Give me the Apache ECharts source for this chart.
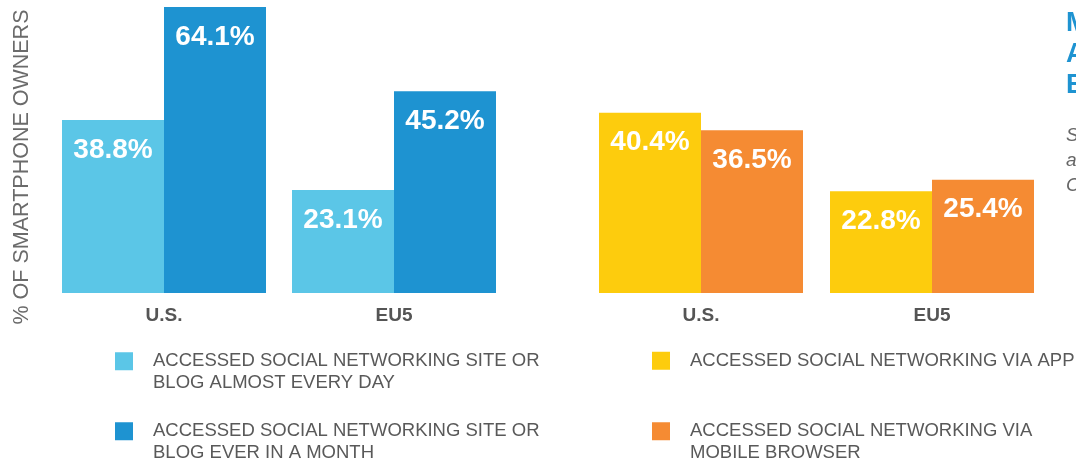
<!DOCTYPE html>
<html>
<head>
<meta charset="utf-8">
<script src="https://cdn.jsdelivr.net/npm/echarts@6/dist/echarts.min.js"></script>
<style>
  html, body { margin: 0; padding: 0; background: #fff; }
  #main { width: 1076px; height: 461px; }
</style>
</head>
<body>
<div id="main"></div>
<script>
// data
const categories = ['U.S.', 'EU5'];
const dailySocial = [38.8, 23.1];
const monthlySocial = [64.1, 45.2];
const viaApp = [40.4, 22.8];
const viaBrowser = [36.5, 25.4];

const names = [
  'ACCESSED SOCIAL NETWORKING SITE OR\nBLOG ALMOST EVERY DAY',
  'ACCESSED SOCIAL NETWORKING SITE OR\nBLOG EVER IN A MONTH',
  'ACCESSED SOCIAL NETWORKING VIA APP',
  'ACCESSED SOCIAL NETWORKING VIA\nMOBILE BROWSER'
];
const colors = ['#5bc6e7', '#1e93d1', '#fdcc0d', '#f58b33'];

const font = '"Liberation Sans", Arial, Helvetica, sans-serif';
const yMax = 64.1;

var myChart = echarts.init(document.getElementById('main'));

var xAxisOf = function (idx) {
  return {
    type: 'category', gridIndex: idx, data: categories,
    axisLine: {show: false}, axisTick: {show: false},
    axisLabel: {margin: 13, color: '#555', fontSize: 19, fontWeight: 'bold', fontFamily: font}
  }
}
var yAxisOf = function (idx, extra) {
  return Object.assign({
    type: 'value', gridIndex: idx, min: 0, max: yMax,
    axisLine: {show: false}, axisTick: {show: false},
    axisLabel: {show: false}, splitLine: {show: false}
  }, extra || {})
}
var barOf = function (i, data, axis) {
  return {
    name: names[i], type: 'bar', data: data,
    xAxisIndex: axis, yAxisIndex: axis,
    barWidth: 102, barGap: '0%',
    itemStyle: {color: colors[i]},
    label: {
      show: true, position: 'insideTop', distance: 16,
      formatter: '{c}%', color: '#fff', fontSize: 28, fontWeight: 'bold', fontFamily: font
    }
  }
}
// icon sits on the first text line, so a blank line goes above two-line names
var legendOf = function (i, left, top, twoLines) {
  return {
    data: [names[i]], left: left, top: top, orient: 'vertical',
    padding: 0, selectedMode: false, icon: 'rect',
    itemWidth: 18, itemHeight: 18,
    formatter: twoLines ? '\n{name}' : '{name}',
    textStyle: {
      fontSize: 18.5, lineHeight: 21.5, color: '#595959', fontFamily: font,
      padding: [0, 0, 0, 15]
    }
  }
}

option = {
  animation: false,
  backgroundColor: '#fff',
  grid: [
    {left: 49, width: 460, top: 7, bottom: 168},
    {left: 585.5, width: 462, top: 7, bottom: 168}
  ],
  xAxis: [xAxisOf(0), xAxisOf(1)],
  yAxis: [
    yAxisOf(0, {
      name: '% OF SMARTPHONE OWNERS', nameLocation: 'middle', nameRotate: 90, nameGap: 16,
      nameTextStyle: {fontSize: 21.5, color: '#6b6b6b', fontFamily: font, padding: [0, 34, 0, 0]}
    }),
    yAxisOf(1)
  ],
  legend: [
    legendOf(0, 115, 329, true),
    legendOf(1, 115, 399, true),
    legendOf(2, 652, 350, false),
    legendOf(3, 652, 399, true)
  ],
  series: [
    barOf(0, dailySocial, 0),
    barOf(1, monthlySocial, 0),
    barOf(2, viaApp, 1),
    barOf(3, viaBrowser, 1)
  ],
  // side text cut off by the right edge of the picture
  graphic: [
    {type: 'text', left: 1066, top: 8, style: {text: 'M\nA\nE', fill: '#1e93d1', font: 'bold 27px ' + font, lineHeight: 31}},
    {type: 'text', left: 1066, top: 123, style: {text: 'S\na\nC', fill: '#666', font: 'italic 19px ' + font, lineHeight: 25}}
  ]
};

myChart.setOption(option);
</script>
</body>
</html>
